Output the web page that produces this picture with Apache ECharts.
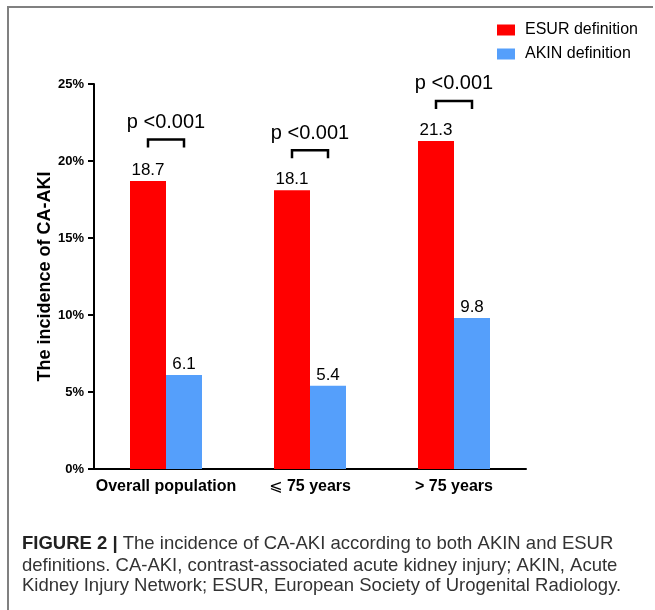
<!DOCTYPE html>
<html>
<head>
<meta charset="utf-8">
<script src="https://cdn.jsdelivr.net/npm/echarts@6/dist/echarts.min.js"></script>
<style>html,body{margin:0;padding:0;background:#fff}#c{width:655px;height:610px}</style>
</head>
<body>
<div id="c"></div>
<script>
const categories = ['Overall population', '\u2A7D 75 years', '> 75 years'];
const esurValues = [18.7, 18.1, 21.3];
const akinValues = [6.1, 5.4, 9.8];
const bracketLevels = [21.4, 20.7, 23.9];
const pLabels = ['p <0.001', 'p <0.001', 'p <0.001'];
const yTicks = [0, 5, 10, 15, 20, 25];

const FONT = '"Liberation Sans", Arial, sans-serif';
const chart = echarts.init(document.getElementById('c'), null, {renderer: 'canvas'});

const option = {
  animation: false,
  backgroundColor: '#fff',
  legend: {
    orient: 'vertical',
    left: 497,
    top: 22,
    padding: 0,
    itemWidth: 18,
    itemHeight: 11,
    itemGap: 8,
    icon: 'rect',
    textStyle: {fontFamily: FONT, fontSize: 16, color: '#000', padding: [0, 0, 0, 5]},
    data: ['ESUR definition', 'AKIN definition']
  },
  grid: {left: 94, top: 84, width: 432, height: 385, containLabel: false},
  xAxis: {
    type: 'category',
    data: categories,
    axisLine: {lineStyle: {color: '#000', width: 2}},
    axisTick: {show: false},
    axisLabel: {
      interval: 0,
      fontFamily: FONT, fontSize: 16, fontWeight: 'bold', color: '#000', margin: 10,
      formatter: v => v.replace('\u2A7D', '{s|\u2A7D}'),
      rich: {s: {fontFamily: '"DejaVu Sans", sans-serif', fontWeight: 'normal', fontSize: 16, color: '#000'}}
    }
  },
  yAxis: {
    type: 'value',
    min: yTicks[0],
    max: yTicks[yTicks.length - 1],
    interval: 5,
    name: 'The incidence of CA-AKI',
    nameLocation: 'middle',
    nameGap: 40,
    nameMoveOverlap: false,
    nameRotate: 90,
    nameTextStyle: {fontFamily: FONT, fontSize: 18, fontWeight: 'bold', color: '#000'},
    axisLine: {show: true, lineStyle: {color: '#000', width: 2}},
    axisTick: {show: true, length: 6, lineStyle: {color: '#000', width: 2}},
    axisLabel: {fontFamily: FONT, fontSize: 13, fontWeight: 'bold', color: '#000', margin: 10, formatter: '{value}%'},
    splitLine: {show: false}
  },
  series: [
    {
      name: 'ESUR definition',
      type: 'bar',
      data: esurValues,
      barWidth: 36,
      barGap: '0%',
      itemStyle: {color: '#FF0000'},
      label: {show: true, position: 'top', distance: 2, fontFamily: FONT, fontSize: 17, color: '#000', formatter: p => p.value.toFixed(1)}
    },
    {
      name: 'AKIN definition',
      type: 'bar',
      data: akinValues,
      barWidth: 36,
      barGap: '0%',
      itemStyle: {color: '#559FFB'},
      label: {show: true, position: 'top', distance: 2, fontFamily: FONT, fontSize: 17, color: '#000', formatter: p => p.value.toFixed(1)}
    },
    {
      type: 'custom',
      silent: true,
      z: 10,
      data: bracketLevels.map((v, i) => [i, v]),
      renderItem: function (params, api) {
        const p = api.coord([api.value(0), api.value(1)]);
        const w = api.size([1, 0])[0] * 0.25;
        return {
          type: 'group',
          children: [
            {
              type: 'polyline',
              shape: {points: [[p[0] - w / 2, p[1] + 8], [p[0] - w / 2, p[1]], [p[0] + w / 2, p[1]], [p[0] + w / 2, p[1] + 8]]},
              style: {stroke: '#000', lineWidth: 2.5, fill: null}
            },
            {
              type: 'text',
              x: p[0],
              y: p[1] - 17,
              style: {text: pLabels[params.dataIndex], fontFamily: FONT, fontSize: 20, fill: '#000', align: 'center', verticalAlign: 'middle'}
            }
          ]
        };
      }
    }
  ],
  graphic: [
    {type: 'line', shape: {x1: 7, y1: 7, x2: 653, y2: 7}, style: {stroke: '#808080', lineWidth: 2}},
    {type: 'line', shape: {x1: 8, y1: 6, x2: 8, y2: 610}, style: {stroke: '#808080', lineWidth: 2}},
    {
      type: 'text', left: 22, top: 534,
      style: {
        text: '{b|FIGURE 2 |} The incidence of CA-AKI according to both AKIN and ESUR',
        rich: {b: {fontFamily: FONT, fontSize: 18.5, fontWeight: 'bold', fill: '#222'}},
        fontFamily: FONT, fontSize: 18.5, fill: '#333'
      }
    },
    {type: 'text', left: 22, top: 556, style: {text: 'definitions. CA-AKI, contrast-associated acute kidney injury; AKIN, Acute', fontFamily: FONT, fontSize: 18.5, fill: '#333'}},
    {type: 'text', left: 22, top: 576, style: {text: 'Kidney Injury Network; ESUR, European Society of Urogenital Radiology.', fontFamily: FONT, fontSize: 18.5, fill: '#333'}}
  ]
};
chart.setOption(option);
</script>
</body>
</html>
